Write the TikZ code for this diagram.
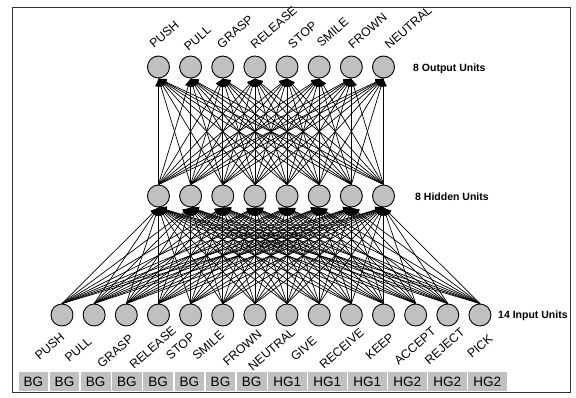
\documentclass[tikz,border=0pt]{standalone}
\usepackage{fontspec}
\setmainfont{Liberation Sans}
\usetikzlibrary{arrows.meta}
\definecolor{unitgray}{HTML}{C0C0C0}
\definecolor{framegray}{HTML}{333333}
\begin{document}
\begin{tikzpicture}[x=1pt,y=-1pt,
 unit/.style={circle,draw=black,fill=unitgray,line width=0.9pt,minimum size=22pt,inner sep=0pt},
 conn/.style={-{Latex[length=8pt,width=7pt]},line width=0.7pt},
 lbl/.style={rotate=41,inner sep=0pt,anchor=center,font=\fontsize{12.3}{13}\selectfont},
 layer/.style={anchor=west,inner sep=0pt,font=\fontsize{10.5}{12}\selectfont\bfseries},
 grp/.style={fill=unitgray,inner sep=0pt,minimum height=19pt,font=\fontsize{13.5}{15}\selectfont}]
\useasboundingbox (0,0) rectangle (576,397);
\draw[framegray,line width=1pt] (12,7) rectangle (570,392);
% input units
\foreach \i in {0,...,13} {
  \node[unit] (in\i) at ({62+32.15*\i},315) {};
}
% hidden and output units
\foreach \j in {0,...,7} {
  \node[unit] (hid\j) at ({62+32.15*(\j+3)},196) {};
  \node[unit] (out\j) at ({62+32.15*(\j+3)},67) {};
}
% connections
\foreach \i in {0,...,13} {
  \foreach \j in {0,...,7} {
    \draw[conn] (in\i.north) -- (hid\j.south);
  }
}
\foreach \i in {0,...,7} {
  \foreach \j in {0,...,7} {
    \draw[conn] (hid\i.north) -- (out\j.south);
  }
}
% layer labels
\node[layer] (lout) at (413,69) {8 Output Units};
\node[layer] (lhid) at (415,197) {8 Hidden Units};
\node[layer] (lin) at (498,316) {14 Input Units};
% output labels
\node[lbl] (o0) at (164.2,34.5) {PUSH};
\node[lbl] (o1) at (197.5,38.3) {PULL};
\node[lbl] (o2) at (235,31.7) {GRASP};
\node[lbl] (o3) at (273.7,27.5) {RELEASE};
\node[lbl] (o4) at (302.5,35) {STOP};
\node[lbl] (o5) at (332.5,32.5) {SMILE};
\node[lbl] (o6) at (367.5,30.8) {FROWN};
\node[lbl] (o7) at (408.3,27.5) {NEUTRAL};
% input labels
\node[lbl] (i0) at (49.7,346.2) {PUSH};
\node[lbl] (i1) at (78.3,349.5) {PULL};
\node[lbl] (i2) at (115.3,351.2) {GRASP};
\node[lbl] (i3) at (152.7,347.5) {RELEASE};
\node[lbl] (i4) at (180.5,346.2) {STOP};
\node[lbl] (i5) at (208.3,345.3) {SMILE};
\node[lbl] (i6) at (242.3,347.8) {FROWN};
\node[lbl] (i7) at (271.7,349.2) {NEUTRAL};
\node[lbl] (i8) at (303.8,348.7) {GIVE};
\node[lbl] (i9) at (341.7,348.7) {RECEIVE};
\node[lbl] (i10) at (379.7,346.2) {KEEP};
\node[lbl] (i11) at (415,346.2) {ACCEPT};
\node[lbl] (i12) at (444.7,346.2) {REJECT};
\node[lbl] (i13) at (480,346.2) {PICK};
% group boxes
\foreach \k in {0,...,7} {
  \node[grp,minimum width=29.6pt] (bg\k) at ({18.5+31.2*\k+14.8},381.5) {BG};
}
\foreach \k/\t in {0/HG1,1/HG1,2/HG1,3/HG2,4/HG2,5/HG2} {
  \node[grp,minimum width=38.5pt] (hg\k) at ({268+40*\k+19.25},381.5) {\t};
}
\end{tikzpicture}
\end{document}
